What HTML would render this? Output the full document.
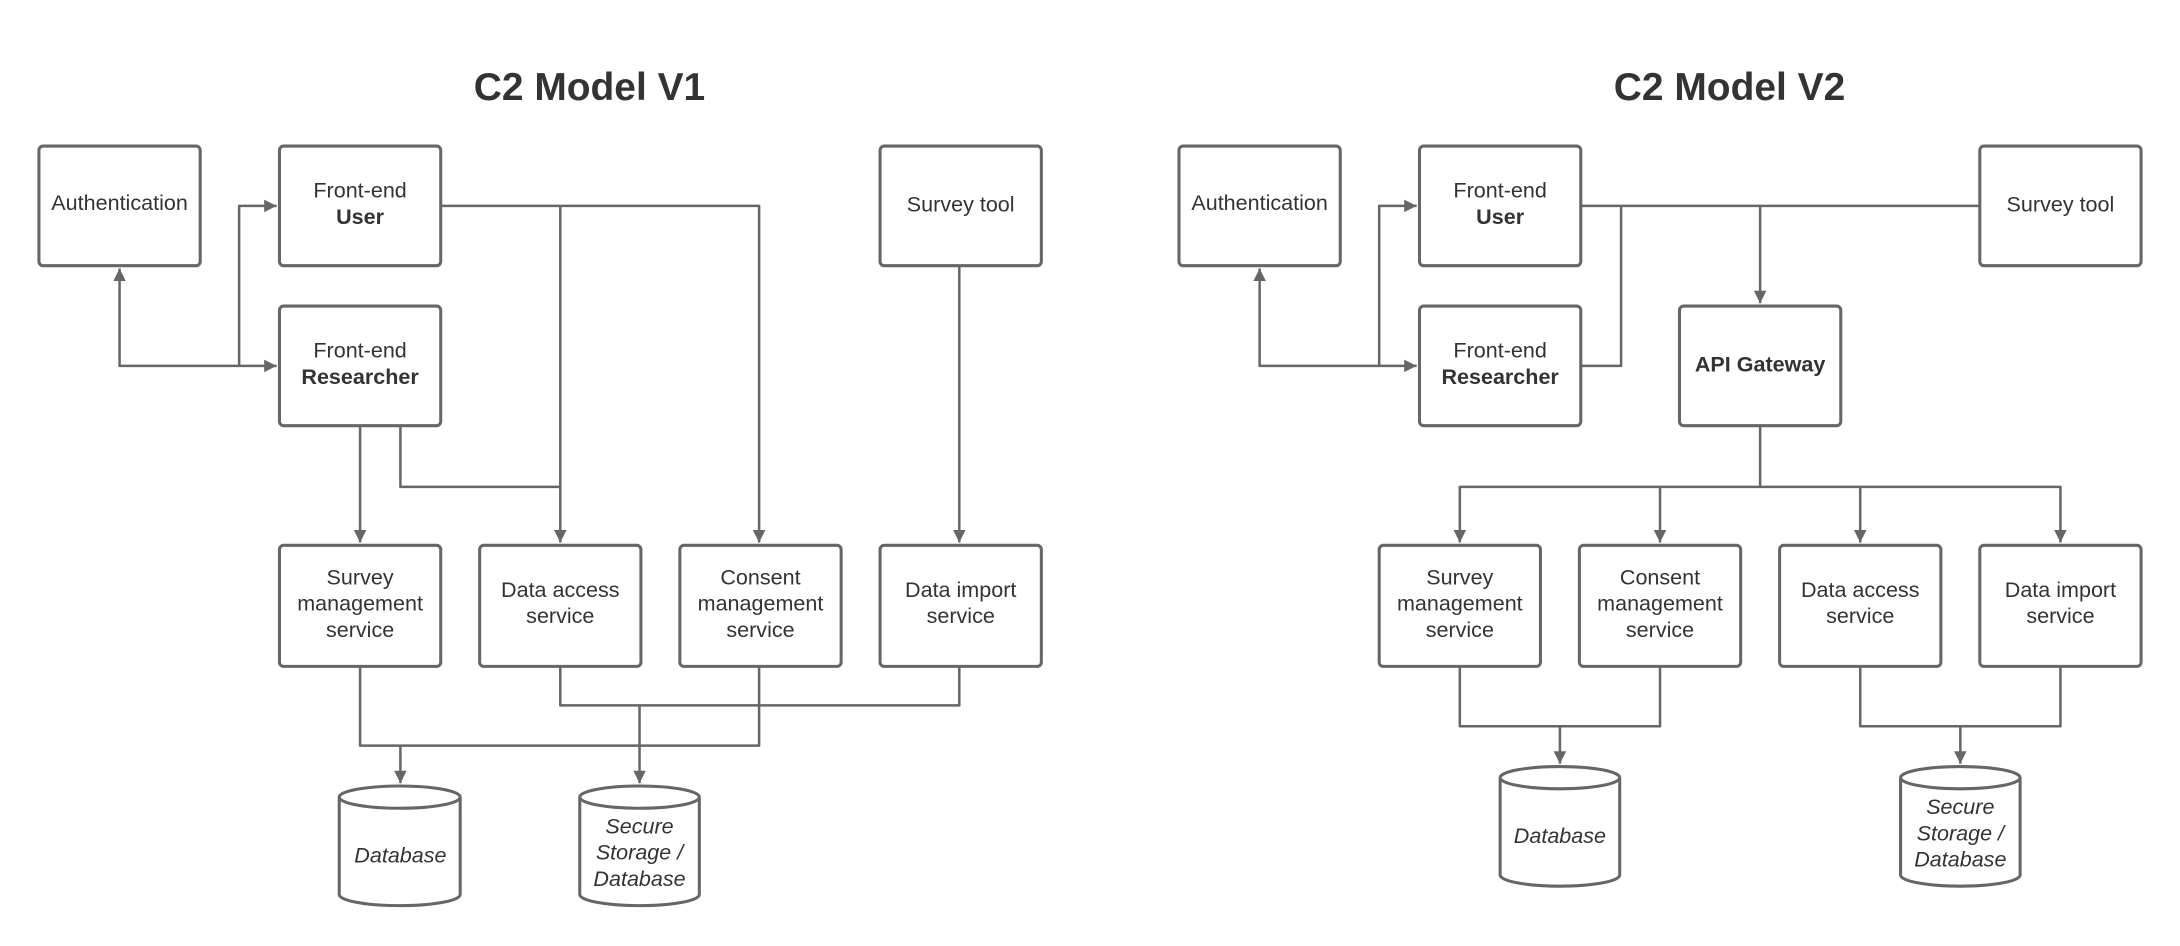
<!DOCTYPE html>
<html><head><meta charset="utf-8"><style>
html,body{margin:0;padding:0;background:#fff;}
svg{display:block}
text{font-family:"Liberation Sans",Arial,sans-serif;fill:#333;font-size:15.5px;text-anchor:middle}
.t{font-size:28px;font-weight:bold}
.b{font-weight:bold}
.i{font-style:italic}
rect,.cyl{fill:#fff;stroke:#666;stroke-width:2.2}
.l{fill:none;stroke:#666;stroke-width:1.8;stroke-linejoin:round}
</style></head><body>
<svg width="2180" height="946" viewBox="0 0 1568 680" preserveAspectRatio="none" xmlns="http://www.w3.org/2000/svg">
<defs><marker id="a" viewBox="0 0 10 10" refX="10" refY="5" markerWidth="11" markerHeight="9" markerUnits="userSpaceOnUse" orient="auto-start-reverse"><path d="M0,0 L10,5 L0,10z" fill="#666"/></marker></defs>

<text class="t" x="424" y="72">C2 Model V1</text>
<text class="t" x="1244" y="72">C2 Model V2</text>

<!-- V1 connectors -->
<path class="l" d="M86,193 V263 H199" marker-start="url(#a)" marker-end="url(#a)"/>
<path class="l" d="M172,263 V148 H199" marker-end="url(#a)"/>
<path class="l" d="M317,148 H546 V390" marker-end="url(#a)"/>
<path class="l" d="M403,148 V390" marker-end="url(#a)"/>
<path class="l" d="M259,306 V390" marker-end="url(#a)"/>
<path class="l" d="M288,306 V350 H403"/>
<path class="l" d="M690,191 V390" marker-end="url(#a)"/>
<path class="l" d="M259,479 V536 H546 V479"/>
<path class="l" d="M288,536 V563" marker-end="url(#a)"/>
<path class="l" d="M403,479 V507 H690 V479"/>
<path class="l" d="M460,507 V563" marker-end="url(#a)"/>

<!-- V1 boxes -->
<rect x="28" y="105" width="116" height="86" rx="3"/><text x="86" y="151">Authentication</text>
<rect x="201" y="105" width="116" height="86" rx="3"/><text x="259" y="142">Front-end</text><text class="b" x="259" y="161">User</text>
<rect x="201" y="220" width="116" height="86" rx="3"/><text x="259" y="257">Front-end</text><text class="b" x="259" y="276">Researcher</text>
<rect x="633" y="105" width="116" height="86" rx="3"/><text x="691" y="152">Survey tool</text>
<rect x="201" y="392" width="116" height="87" rx="3"/><text x="259" y="420">Survey</text><text x="259" y="439">management</text><text x="259" y="458">service</text>
<rect x="345" y="392" width="116" height="87" rx="3"/><text x="403" y="429">Data access</text><text x="403" y="448">service</text>
<rect x="489" y="392" width="116" height="87" rx="3"/><text x="547" y="420">Consent</text><text x="547" y="439">management</text><text x="547" y="458">service</text>
<rect x="633" y="392" width="116" height="87" rx="3"/><text x="691" y="429">Data import</text><text x="691" y="448">service</text>
<path class="cyl" d="M244,573 A43.5,8 0 0 1 331,573 V643 A43.5,8 0 0 1 244,643 Z M244,573 A43.5,8 0 0 0 331,573"/>
<text class="i" x="288" y="620">Database</text>
<path class="cyl" d="M417,573 A43,8 0 0 1 503,573 V643 A43,8 0 0 1 417,643 Z M417,573 A43,8 0 0 0 503,573"/>
<text class="i" x="460" y="599">Secure</text><text class="i" x="460" y="618">Storage /</text><text class="i" x="460" y="637">Database</text>

<!-- V2 connectors -->
<path class="l" d="M906,193 V263 H1019" marker-start="url(#a)" marker-end="url(#a)"/>
<path class="l" d="M992,263 V148 H1019" marker-end="url(#a)"/>
<path class="l" d="M1137,148 H1424"/>
<path class="l" d="M1137,263 H1166 V148"/>
<path class="l" d="M1266,148 V218" marker-end="url(#a)"/>
<path class="l" d="M1266,306 V350"/>
<path class="l" d="M1050,390 V350 H1482 V390" marker-start="url(#a)" marker-end="url(#a)"/>
<path class="l" d="M1194,350 V390" marker-end="url(#a)"/>
<path class="l" d="M1338,350 V390" marker-end="url(#a)"/>
<path class="l" d="M1050,479 V522 H1194 V479"/>
<path class="l" d="M1122,522 V549" marker-end="url(#a)"/>
<path class="l" d="M1338,479 V522 H1482 V479"/>
<path class="l" d="M1410,522 V549" marker-end="url(#a)"/>

<!-- V2 boxes -->
<rect x="848" y="105" width="116" height="86" rx="3"/><text x="906" y="151">Authentication</text>
<rect x="1021" y="105" width="116" height="86" rx="3"/><text x="1079" y="142">Front-end</text><text class="b" x="1079" y="161">User</text>
<rect x="1021" y="220" width="116" height="86" rx="3"/><text x="1079" y="257">Front-end</text><text class="b" x="1079" y="276">Researcher</text>
<rect x="1424" y="105" width="116" height="86" rx="3"/><text x="1482" y="152">Survey tool</text>
<rect x="1208" y="220" width="116" height="86" rx="3"/><text class="b" x="1266" y="267">API Gateway</text>
<rect x="992" y="392" width="116" height="87" rx="3"/><text x="1050" y="420">Survey</text><text x="1050" y="439">management</text><text x="1050" y="458">service</text>
<rect x="1136" y="392" width="116" height="87" rx="3"/><text x="1194" y="420">Consent</text><text x="1194" y="439">management</text><text x="1194" y="458">service</text>
<rect x="1280" y="392" width="116" height="87" rx="3"/><text x="1338" y="429">Data access</text><text x="1338" y="448">service</text>
<rect x="1424" y="392" width="116" height="87" rx="3"/><text x="1482" y="429">Data import</text><text x="1482" y="448">service</text>
<path class="cyl" d="M1079,559 A43,8 0 0 1 1165,559 V629 A43,8 0 0 1 1079,629 Z M1079,559 A43,8 0 0 0 1165,559"/>
<text class="i" x="1122" y="606">Database</text>
<path class="cyl" d="M1367,559 A43,8 0 0 1 1453,559 V629 A43,8 0 0 1 1367,629 Z M1367,559 A43,8 0 0 0 1453,559"/>
<text class="i" x="1410" y="585">Secure</text><text class="i" x="1410" y="604">Storage /</text><text class="i" x="1410" y="623">Database</text>
</svg>
</body></html>
